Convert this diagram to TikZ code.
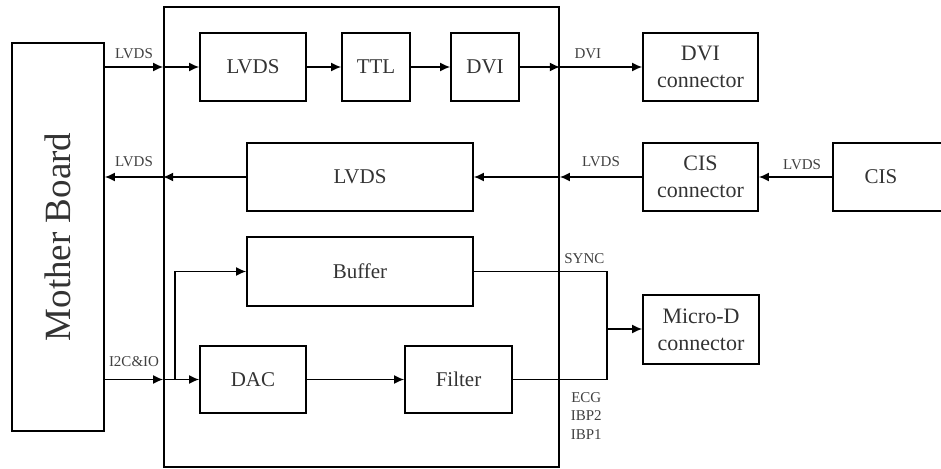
\documentclass[tikz,border=0pt]{standalone}
\usepackage{fontspec}
\setmainfont{Liberation Serif}
\usepackage{graphicx}
\usetikzlibrary{shapes,arrows.meta}
\tikzstyle{block} = [rectangle, draw, line width=1.8pt, inner sep=0pt,
    text centered, text=black!80, minimum height=68pt,
    font=\fontsize{21}{24}\selectfont]
\tikzstyle{conn} = [block, align=center, font=\fontsize{22}{27}\selectfont]
\tikzstyle{line} = [draw, line width=1.5pt, -{Latex[length=10pt,width=9pt]}]
\tikzstyle{sig} = [inner sep=0pt, text=black!75, font=\fontsize{15}{18.5}\selectfont]

\begin{document}
\begin{tikzpicture}[x=1pt, y=-1pt]
    \useasboundingbox (0,0) rectangle (941,468);
    % boards
    \node [block, minimum width=92pt, minimum height=388pt,
        font=\fontsize{37}{40}\selectfont] (mb) at (58,237)
        {\rotatebox{90}{Mother Board}};
    \node [block, minimum width=395pt, minimum height=460pt] (frame) at (361.5,237) {};
    % first row
    \node [block, minimum width=106pt] (lvdsin) at (253,67) {LVDS};
    \node [block, minimum width=68pt] (ttl) at (376,67) {TTL};
    \node [block, minimum width=68pt] (dvi) at (485,67) {DVI};
    \node [conn, minimum width=115pt] (dviconn) at (700.5,67) {DVI\\connector};
    % second row
    \node [block, minimum width=226pt] (lvdsout) at (360,177) {LVDS};
    \node [conn, minimum width=115pt] (cisconn) at (700.5,177) {CIS\\connector};
    \node [block, minimum width=124pt] (cis) at (895,177) {\hspace*{-28pt}CIS};
    % analog part
    \node [block, minimum width=226pt, minimum height=69pt] (buffer) at (360,271.5) {Buffer};
    \node [block, minimum width=106pt, minimum height=67pt] (dac) at (253,379.5) {DAC};
    \node [block, minimum width=107pt, minimum height=67pt] (filter) at (458.5,379.5) {Filter};
    \node [conn, minimum width=116pt, minimum height=69pt] (microd) at (701,329.5) {Micro-D\\connector};

    % LVDS -> DVI
    \coordinate (inA) at (frame.west |- lvdsin);
    \coordinate (outA) at (frame.east |- dvi);
    \path [line] (mb.east |- lvdsin) -- node [sig, above=8pt] {LVDS} (inA);
    \path [line] (inA) -- (lvdsin);
    \path [line] (lvdsin) -- (ttl);
    \path [line] (ttl) -- (dvi);
    \path [line] (dvi) -- (outA);
    \path [line] (outA) -- node [sig, above=8pt, pos=0.34] {DVI} (dviconn);

    % CIS -> mother board
    \coordinate (outB) at (frame.east |- lvdsout);
    \coordinate (inB) at (frame.west |- lvdsout);
    \path [line] (cis) -- node [sig, above=7pt, pos=0.41] {LVDS} (cisconn);
    \path [line] (cisconn) -- node [sig, above=10pt] {LVDS} (outB);
    \path [line] (outB) -- (lvdsout);
    \path [line] (lvdsout) -- (inB);
    \path [line] (inB) -- node [sig, above=10pt] {LVDS} (mb.east |- lvdsout);

    % I2C & IO
    \coordinate (inC) at (frame.west |- dac);
    \coordinate (br) at ([xshift=12pt]inC);
    \path [line] (mb.east |- dac) -- node [sig, above=12pt] {I2C\&IO} (inC);
    \path [line] (inC) -- (dac);
    \path [line] (br) |- (buffer);
    \path [line] (dac) -- (filter);

    % to Micro-D
    \coordinate (jn) at (607,329);
    \draw [line width=1.5pt] (buffer.east) -- node [sig, above=7pt, pos=0.83] {SYNC} (buffer.east -| jn)
        -- (filter.east -| jn)
        -- node [sig, below=12pt, pos=0.22, align=center] {ECG\\IBP2\\IBP1} (filter.east);
    \path [line] (jn) -- (jn -| microd.west);
\end{tikzpicture}
\end{document}
